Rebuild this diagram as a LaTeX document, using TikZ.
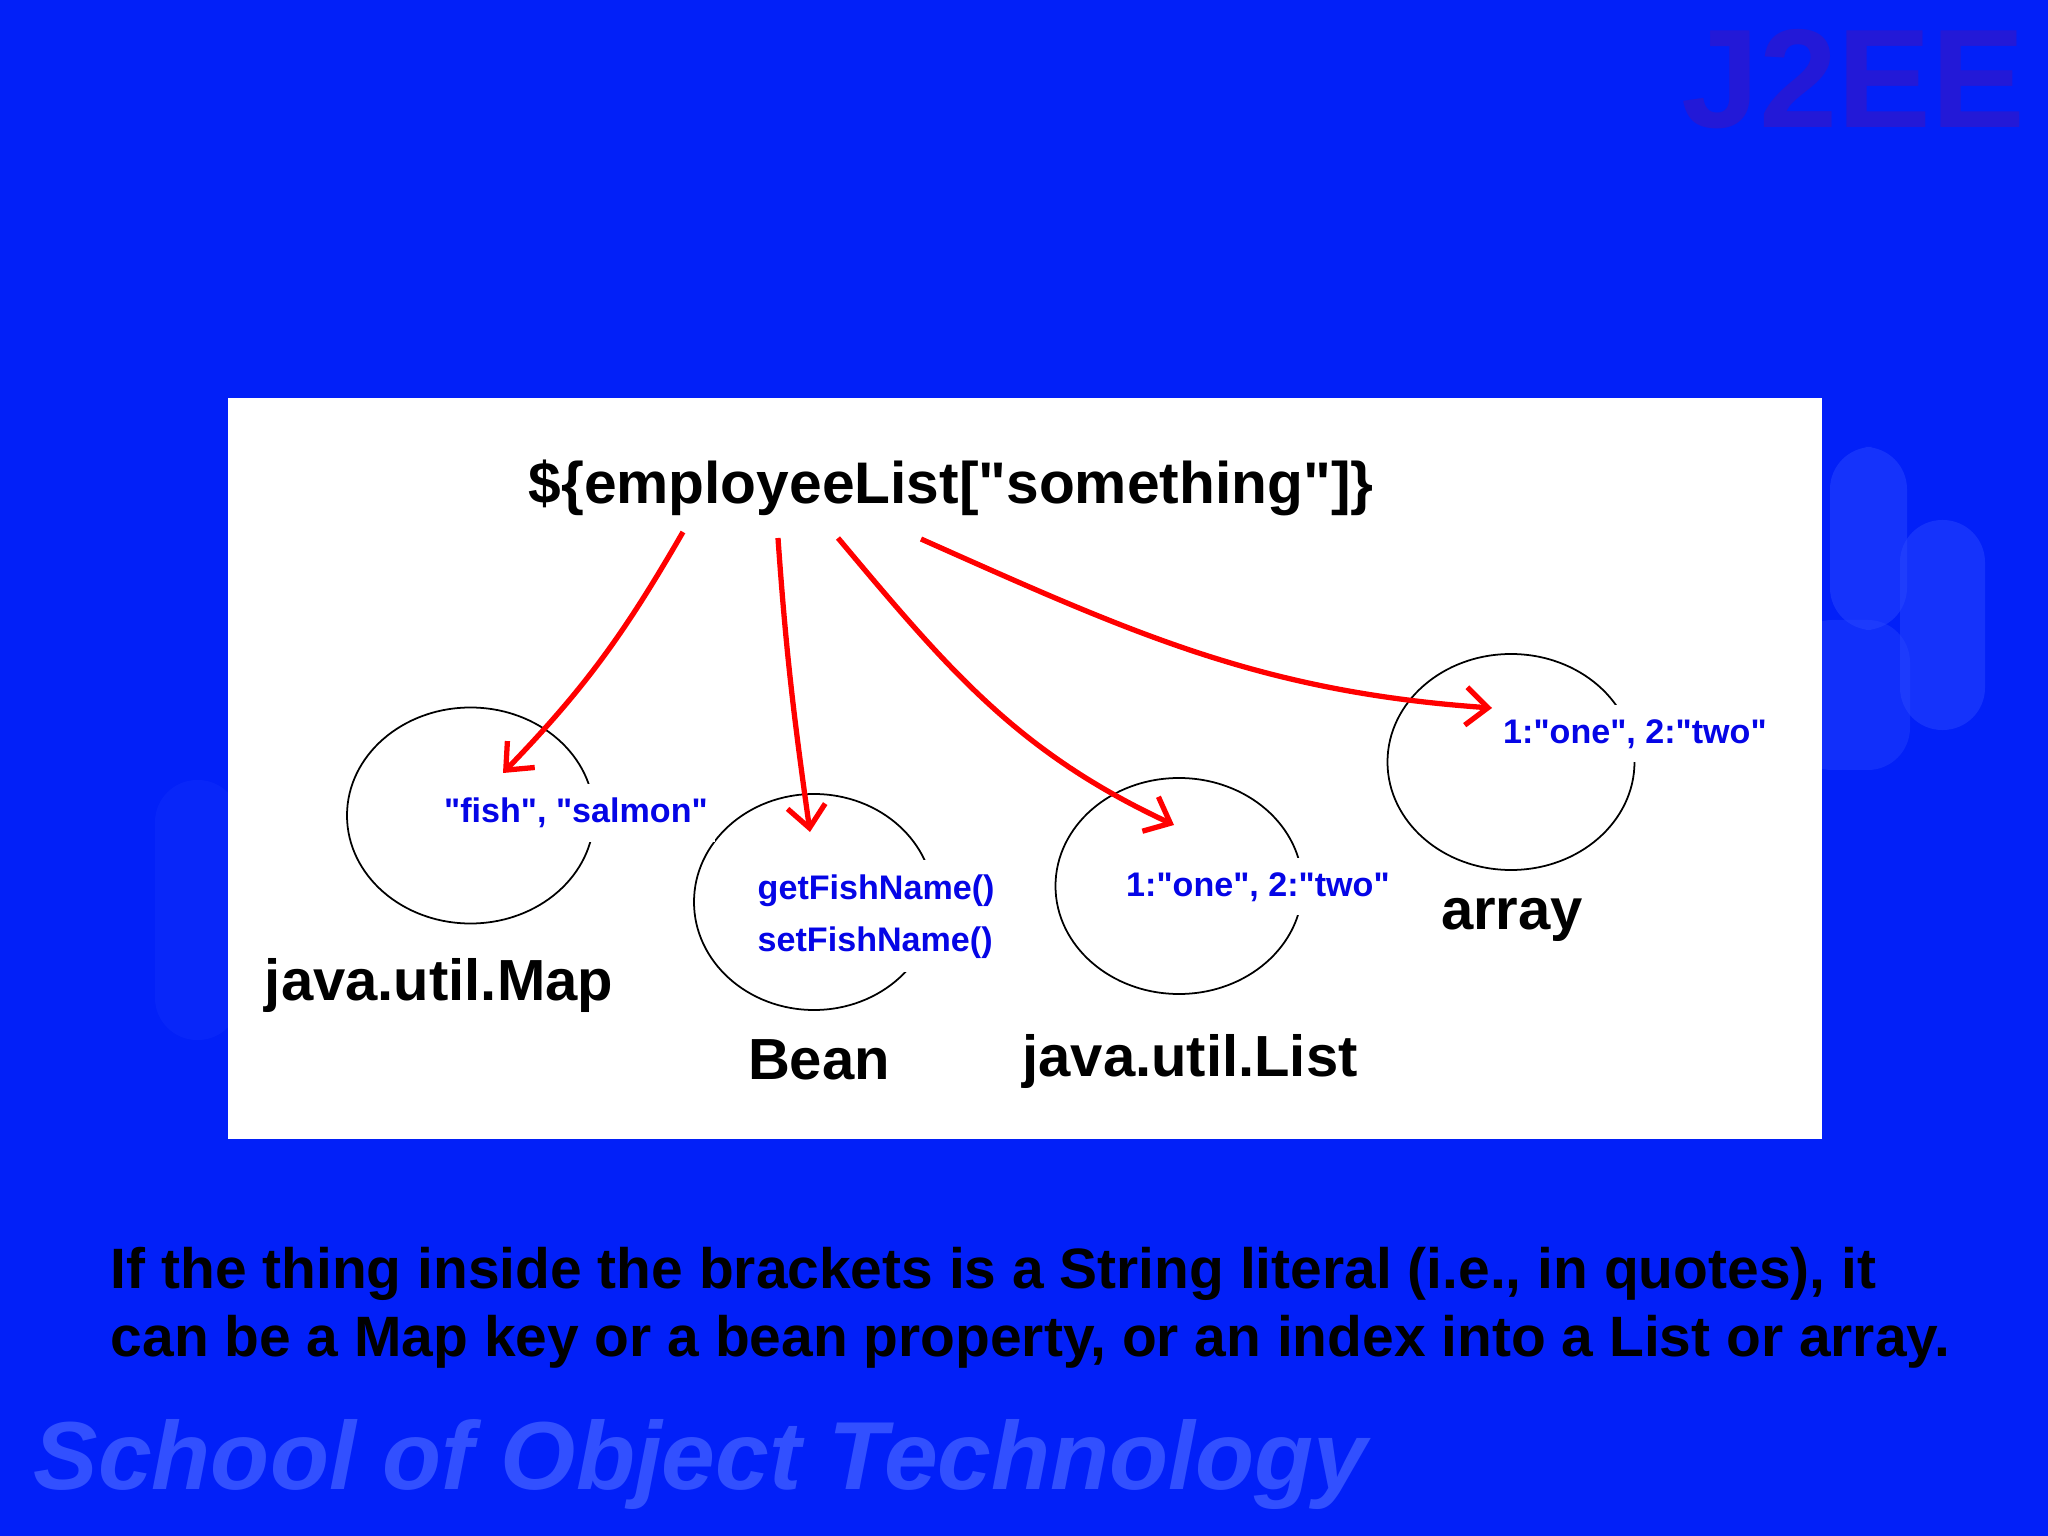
\documentclass[tikz,border=0pt]{standalone}
\usepackage{fontspec}
\newfontfamily\slidefont{Liberation Sans}
\usepackage{xcolor}
\usetikzlibrary{shapes.geometric,arrows.meta,positioning}
\definecolor{slidebg}{RGB}{2,32,248}
\definecolor{blobblue}{RGB}{45,75,255}
\definecolor{markpurple}{RGB}{35,25,215}
\definecolor{schoolblue}{RGB}{50,80,255}
\definecolor{valblue}{RGB}{5,5,230}
\definecolor{ptred}{RGB}{255,0,0}

\begin{document}
\begin{tikzpicture}[
  ring/.style={draw, line width=.5pt, ellipse, minimum width=2.47cm, minimum height=2.16cm, inner sep=0pt},
  kind/.style={anchor=base, inner sep=0pt, font=\slidefont\bfseries\fontsize{16.5}{19.3}\selectfont},
  entry/.style={anchor=base, fill=white, text=valblue, inner xsep=2pt, inner ysep=4pt, font=\slidefont\bfseries\fontsize{9.7}{12}\selectfont},
  pointer/.style={draw=ptred, line width=1.5pt, -{Straight Barb[length=2.2mm,width=3.8mm]}},
  note/.style={anchor=base west, inner sep=0pt, font=\slidefont\bfseries\fontsize{16.2}{19.3}\selectfont}
]
\useasboundingbox (0,0) rectangle (20.48,-15.36);
\fill[slidebg] (0,0) rectangle (20.48,-15.36);
\fill[blobblue, opacity=.45, rounded corners=12pt] (18.30,-4.47) rectangle (19.07,-6.30);
\fill[blobblue, opacity=.45, rounded corners=12pt] (19.00,-5.20) rectangle (19.85,-7.30);
\fill[blobblue, opacity=.35, rounded corners=12pt] (17.90,-6.20) rectangle (19.10,-7.70);
\fill[blobblue, opacity=.15, rounded corners=12pt] (1.55,-7.80) rectangle (2.40,-10.40);
\node[anchor=base, inner sep=0pt, text=markpurple, font=\slidefont\bfseries\fontsize{40}{40}\selectfont] (brand) at (18.53,-1.28) {J2EE};
\node[anchor=base west, inner sep=0pt, text=schoolblue, font=\slidefont\bfseries\itshape\fontsize{27.5}{27.5}\selectfont] (school) at (0.33,-14.89) {School of Object Technology};

\node[fill=white, anchor=north west, inner sep=0pt, minimum width=15.94cm, minimum height=7.41cm] (panel) at (2.27,-3.97) {};
\node[anchor=base, inner sep=0pt, font=\slidefont\bfseries\fontsize{16.7}{19}\selectfont] (expr) at (9.51,-5.04) {\$\{employeeList["something"]\}};

\node[ring] (mapE) at (4.705,-8.155) {};
\node[ring, minimum width=2.40cm] (beanE) at (8.14,-9.02) {};
\node[ring] (listE) at (11.79,-8.86) {};
\node[ring] (arrE) at (15.11,-7.62) {};

\node[entry] (mapVal) at (5.76,-8.23) {"fish", "salmon"};
\node[entry, anchor=base west] (setter) at (7.50,-9.51) {setFishName()};
\node[entry, anchor=base west] (getter) at (7.50,-8.99) {getFishName()};
\node[entry] (listVal) at (12.58,-8.96) {1:"one", 2:"two"};
\node[entry] (arrVal) at (16.35,-7.43) {1:"one", 2:"two"};

\node[kind] (mapName) at (4.39,-10.00) {java.util.Map};
\node[kind] (beanName) at (8.19,-10.79) {Bean};
\node[kind] (listName) at (11.90,-10.76) {java.util.List};
\node[kind] (arrName) at (15.12,-9.29) {array};

\coordinate (fromMap) at (6.83,-5.32);
\coordinate (toMap) at (5.03,-7.73);
\coordinate (fromBean) at (7.78,-5.38);
\coordinate (toBean) at (8.10,-8.32);
\coordinate (fromList) at (8.38,-5.38);
\coordinate (toList) at (11.74,-8.25);
\coordinate (fromArr) at (9.21,-5.39);
\coordinate (toArr) at (14.92,-7.08);
\draw[pointer] (fromMap) to[out=-120,in=46] (toMap);
\draw[pointer] (fromBean) to[out=-86,in=98] (toBean);
\draw[pointer] (fromList) to[out=-50,in=155] (toList);
\draw[pointer] (fromArr) to[out=-24,in=176] (toArr);

\node[note] (line1) at (1.10,-12.88) {If the thing inside the brackets is a String literal (i.e., in quotes), it};
\node[note] (line2) at (1.10,-13.56) {can be a Map key or a bean property, or an index into a List or array.};
\end{tikzpicture}
\end{document}
